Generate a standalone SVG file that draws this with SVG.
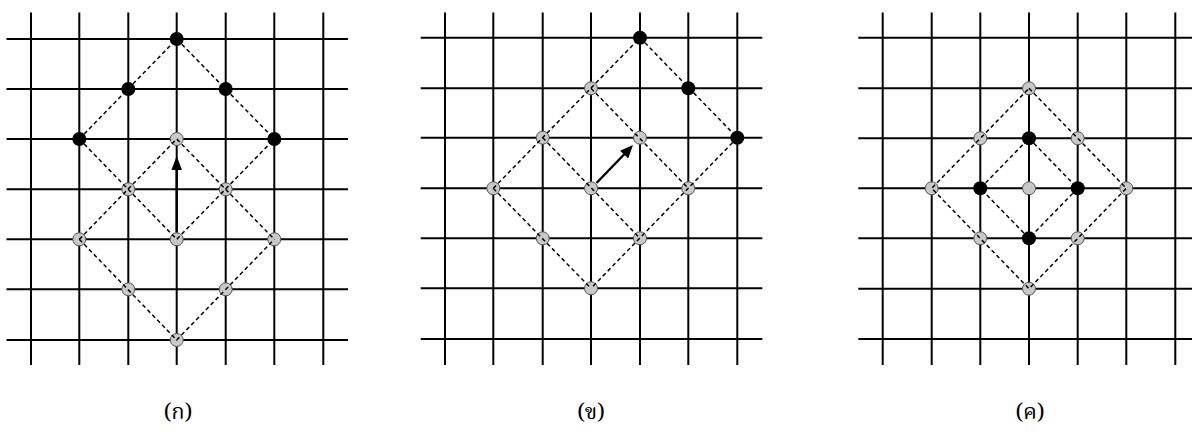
<svg xmlns="http://www.w3.org/2000/svg" width="1192" height="444" viewBox="0 0 1192 444">
<style>
.grid line{stroke:#000;stroke-width:2}
.dash{stroke:#000;stroke-width:1.5;stroke-dasharray:4 3;fill:none}
.gray{fill:#c8c8c8;stroke:#555;stroke-width:1}
.black{fill:#000}
.arrow{stroke:#000;stroke-width:2.4;fill:none}
.head{fill:#000;stroke:none}
.lbl{font-family:"Noto Serif Thai","Noto Sans Thai","Tlwg Typo","Loma","Garuda","DejaVu Sans",sans-serif;font-size:22px;font-weight:normal;fill:#000;text-anchor:middle}
</style>
<rect width="1192" height="444" fill="#fff"/>
<!-- Panel 1 grid -->
<g id="grid1" class="grid">
<line x1="31" y1="12.5" x2="31" y2="365"/><line x1="79.3" y1="12.5" x2="79.3" y2="365"/><line x1="128.3" y1="12.5" x2="128.3" y2="365"/><line x1="176.7" y1="12.5" x2="176.7" y2="365"/><line x1="225.7" y1="12.5" x2="225.7" y2="365"/><line x1="274.3" y1="12.5" x2="274.3" y2="365"/><line x1="323.3" y1="12.5" x2="323.3" y2="365"/>
<line x1="6.5" y1="39" x2="348" y2="39"/><line x1="6.5" y1="89" x2="348" y2="89"/><line x1="6.5" y1="139" x2="348" y2="139"/><line x1="6.5" y1="189.3" x2="348" y2="189.3"/><line x1="6.5" y1="239.3" x2="348" y2="239.3"/><line x1="6.5" y1="289.3" x2="348" y2="289.3"/><line x1="6.5" y1="340" x2="348" y2="340"/>
</g>
<!-- Panel 2 grid -->
<g id="grid2" class="grid">
<line x1="445" y1="12.5" x2="445" y2="365"/><line x1="493.3" y1="12.5" x2="493.3" y2="365"/><line x1="542.7" y1="12.5" x2="542.7" y2="365"/><line x1="591" y1="12.5" x2="591" y2="365"/><line x1="640" y1="12.5" x2="640" y2="365"/><line x1="688.3" y1="12.5" x2="688.3" y2="365"/><line x1="737.3" y1="12.5" x2="737.3" y2="365"/>
<line x1="420.7" y1="37.7" x2="762.3" y2="37.7"/><line x1="420.7" y1="88.3" x2="762.3" y2="88.3"/><line x1="420.7" y1="137.7" x2="762.3" y2="137.7"/><line x1="420.7" y1="188.3" x2="762.3" y2="188.3"/><line x1="420.7" y1="238.3" x2="762.3" y2="238.3"/><line x1="420.7" y1="288.3" x2="762.3" y2="288.3"/><line x1="420.7" y1="339" x2="762.3" y2="339"/>
</g>
<!-- Panel 3 grid -->
<g id="grid3" class="grid">
<line x1="882.7" y1="12.5" x2="882.7" y2="365"/><line x1="931.7" y1="12.5" x2="931.7" y2="365"/><line x1="980.3" y1="12.5" x2="980.3" y2="365"/><line x1="1029" y1="12.5" x2="1029" y2="365"/><line x1="1077.7" y1="12.5" x2="1077.7" y2="365"/><line x1="1126.3" y1="12.5" x2="1126.3" y2="365"/><line x1="1175.3" y1="12.5" x2="1175.3" y2="365"/>
<line x1="858.3" y1="37.7" x2="1192" y2="37.7"/><line x1="858.3" y1="88.3" x2="1192" y2="88.3"/><line x1="858.3" y1="138.3" x2="1192" y2="138.3"/><line x1="858.3" y1="188.3" x2="1192" y2="188.3"/><line x1="858.3" y1="238.3" x2="1192" y2="238.3"/><line x1="858.3" y1="288.7" x2="1192" y2="288.7"/><line x1="858.3" y1="339" x2="1192" y2="339"/>
</g>
<!-- gray nodes -->
<g id="p1-gray">
<circle class="gray" cx="176.7" cy="139" r="6.5"/><circle class="gray" cx="128.3" cy="189.3" r="6.5"/><circle class="gray" cx="225.7" cy="189.3" r="6.5"/><circle class="gray" cx="79.3" cy="239.3" r="6.5"/><circle class="gray" cx="176.7" cy="239.3" r="6.5"/><circle class="gray" cx="274.3" cy="239.3" r="6.5"/><circle class="gray" cx="128.3" cy="289.3" r="6.5"/><circle class="gray" cx="225.7" cy="289.3" r="6.5"/><circle class="gray" cx="176.7" cy="340" r="6.5"/>
</g>
<g id="p2-gray">
<circle class="gray" cx="591" cy="88.3" r="6.5"/><circle class="gray" cx="542.7" cy="137.7" r="6.5"/><circle class="gray" cx="640" cy="137.7" r="6.5"/><circle class="gray" cx="493.3" cy="188.3" r="6.5"/><circle class="gray" cx="591" cy="188.3" r="6.5"/><circle class="gray" cx="688.3" cy="188.3" r="6.5"/><circle class="gray" cx="542.7" cy="238.3" r="6.5"/><circle class="gray" cx="640" cy="238.3" r="6.5"/><circle class="gray" cx="591" cy="288.3" r="6.5"/>
</g>
<g id="p3-gray">
<circle class="gray" cx="1029" cy="88.3" r="6.5"/><circle class="gray" cx="980.3" cy="138.3" r="6.5"/><circle class="gray" cx="1077.7" cy="138.3" r="6.5"/><circle class="gray" cx="931.7" cy="188.3" r="6.5"/><circle class="gray" cx="1029" cy="188.3" r="6.5"/><circle class="gray" cx="1126.3" cy="188.3" r="6.5"/><circle class="gray" cx="980.3" cy="238.3" r="6.5"/><circle class="gray" cx="1077.7" cy="238.3" r="6.5"/><circle class="gray" cx="1029" cy="288.7" r="6.5"/>
</g>
<!-- connectors -->
<g id="connectors">
<polyline class="dash" points="79.3,139 176.7,39 274.3,139"/>
<polyline class="dash" points="79.3,139 176.7,239.3 274.3,139"/>
<polyline class="dash" points="79.3,239.3 176.7,139 274.3,239.3"/>
<polyline class="dash" points="79.3,239.3 176.7,340 274.3,239.3"/>
<line class="dash" x1="493.3" y1="188.3" x2="640" y2="37.7"/>
<line class="dash" x1="640" y1="37.7" x2="737.3" y2="137.7"/>
<line class="dash" x1="737.3" y1="137.7" x2="591" y2="288.3"/>
<line class="dash" x1="493.3" y1="188.3" x2="591" y2="288.3"/>
<line class="dash" x1="591" y1="88.3" x2="688.3" y2="188.3"/>
<line class="dash" x1="542.7" y1="137.7" x2="640" y2="238.3"/>
<polygon class="dash" points="1029,88.3 1126.3,188.3 1029,288.7 931.7,188.3"/>
<polygon class="dash" points="1029,138.3 1077.7,188.3 1029,238.3 980.3,188.3"/>
<line class="arrow" x1="176.7" y1="232" x2="176.7" y2="168"/>
<polygon class="head" points="176.7,156 182,170 171.4,170"/>
<line class="arrow" x1="596.5" y1="183" x2="625" y2="153.5"/>
<polygon class="head" points="633,145 628.2,158.6 620.1,150.8"/>
</g>
<!-- black nodes -->
<g id="p1-black">
<circle class="black" cx="176.7" cy="39" r="7"/><circle class="black" cx="128.3" cy="89" r="7"/><circle class="black" cx="225.7" cy="89" r="7"/><circle class="black" cx="79.3" cy="139" r="7"/><circle class="black" cx="274.3" cy="139" r="7"/>
</g>
<g id="p2-black">
<circle class="black" cx="640" cy="37.7" r="7"/><circle class="black" cx="688.3" cy="88.3" r="7"/><circle class="black" cx="737.3" cy="137.7" r="7"/>
</g>
<g id="p3-black">
<circle class="black" cx="1029" cy="138.3" r="7"/><circle class="black" cx="980.3" cy="188.3" r="7"/><circle class="black" cx="1077.7" cy="188.3" r="7"/><circle class="black" cx="1029" cy="238.3" r="7"/>
</g>
<!-- labels -->
<g id="labels">
<text class="lbl" x="178" y="419">(ก)</text>
<text class="lbl" x="591" y="419">(ข)</text>
<text class="lbl" x="1030" y="419">(ค)</text>
</g>
</svg>
